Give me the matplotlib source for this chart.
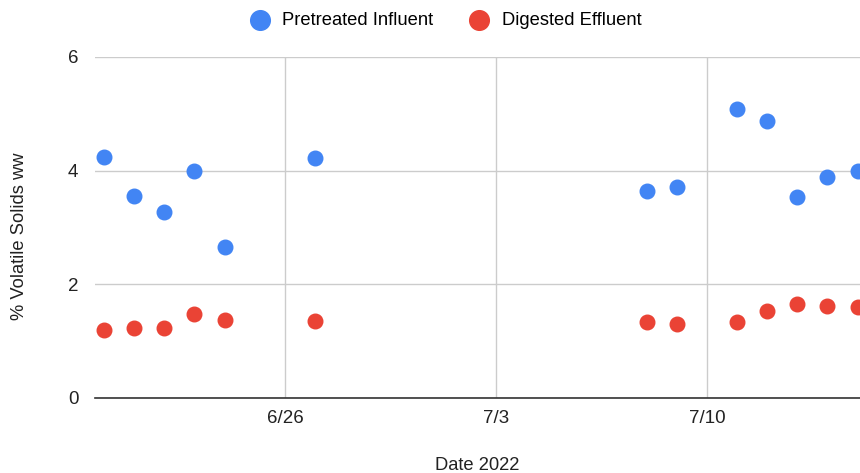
import datetime as dt
import matplotlib
matplotlib.use("Agg")
import matplotlib.pyplot as plt

plt.rcParams['font.family'] = ['Liberation Sans', 'DejaVu Sans']

# sampling dates (2022)
dates = ["2022-06-20", "2022-06-21", "2022-06-22", "2022-06-23", "2022-06-24",
         "2022-06-27", "2022-07-08", "2022-07-09", "2022-07-11", "2022-07-12",
         "2022-07-13", "2022-07-14", "2022-07-15"]
influent = [4.24, 3.56, 3.27, 4.00, 2.66, 4.22, 3.64, 3.71, 5.08, 4.88, 3.54, 3.89, 4.00]
effluent = [1.20, 1.23, 1.24, 1.48, 1.37, 1.35, 1.34, 1.30, 1.34, 1.53, 1.65, 1.62, 1.60]
tick_dates = ["2022-06-26", "2022-07-03", "2022-07-10"]
tick_labels = ["6/26", "7/3", "7/10"]

x = [dt.datetime.fromisoformat(d) for d in dates]
ticks = [dt.datetime.fromisoformat(d) for d in tick_dates]

fig = plt.figure(figsize=(8.6, 4.73), dpi=100)
ax = fig.add_axes([0.1105, 0.1586, 0.8895, 0.7209])

ax.scatter(x, influent, s=110, color="#4285F4", label="Pretreated Influent", zorder=3, clip_on=False)
ax.scatter(x, effluent, s=110, color="#EA4335", label="Digested Effluent", zorder=3, clip_on=False)

ax.set_xlim(ticks[0] - dt.timedelta(days=6.3), ticks[0] + dt.timedelta(days=19.08))
ax.set_ylim(0, 6)
ax.set_yticks([0, 2, 4, 6])
ax.set_xticks(ticks)
ax.set_xticklabels(tick_labels)

ax.grid(True, color="#cccccc", linewidth=1)
ax.set_axisbelow(True)
for s in ["top", "right", "left"]:
    ax.spines[s].set_visible(False)
ax.spines["bottom"].set_color("#333333")
ax.spines["bottom"].set_linewidth(1.2)
ax.tick_params(length=0, labelsize=13.5, colors="#222222", pad=9)
ax.tick_params(axis="y", pad=12)

ax.set_xlabel("Date 2022", fontsize=13.2, color="#222222", labelpad=21)
ax.set_ylabel("% Volatile Solids ww", fontsize=13.2, color="#222222")
ax.yaxis.set_label_coords(-0.087, 0.475)

fig.legend(loc="upper center", bbox_to_anchor=(0.5135, 1.01), ncol=2, frameon=False,
           fontsize=13.2, handletextpad=0.25, columnspacing=1.5, markerscale=1.35)

fig.savefig("out.png", dpi=100)
